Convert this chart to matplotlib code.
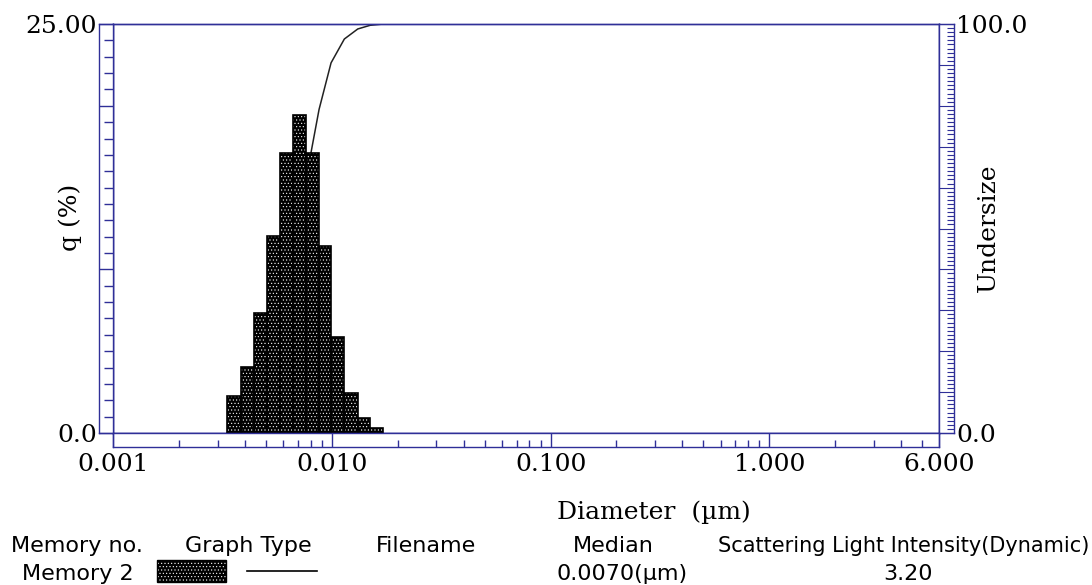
import numpy as np
import matplotlib
matplotlib.use("Agg")
import matplotlib.pyplot as plt
from matplotlib.ticker import MultipleLocator, FixedLocator, NullFormatter, NullLocator
from matplotlib.patches import Rectangle
from matplotlib.lines import Line2D

# --- data ---
bin_edges_um = [0.003323, 0.003826, 0.004416, 0.005032, 0.005788, 0.006617, 0.007612,
                0.008730, 0.009906, 0.011395, 0.013122, 0.014940, 0.017185]
q_percent = [2.26, 4.05, 7.35, 12.04, 17.10, 19.44, 17.10, 11.43, 5.85, 2.46, 0.90, 0.32]

x_ticks = [0.001, 0.01, 0.1, 1.0, 6.0]
x_tick_labels = ["0.001", "0.010", "0.100", "1.000", "6.000"]
x_minor = [2e-3, 3e-3, 4e-3, 5e-3, 6e-3, 7e-3, 8e-3, 9e-3,
           2e-2, 3e-2, 4e-2, 5e-2, 6e-2, 7e-2, 8e-2, 9e-2,
           0.2, 0.3, 0.4, 0.5, 0.6, 0.7, 0.8, 0.9,
           2.0, 3.0, 4.0, 5.0]

table_header = ["Memory no.", "Graph Type", "Filename", "Median",
                "Scattering Light Intensity(Dynamic)"]
table_row = ["Memory 2", "", "", "0.0070(\u00b5m)", "3.20"]

# --- style ---
AXC = "#2f2f98"
SERIF = ["DejaVu Serif"]
SANS = ["DejaVu Sans"]
W, H = 1092, 585

plt.rcParams["hatch.linewidth"] = 0.4


def rect(x0, y0, x1, y1):
    # pixel box (top-left origin) -> figure fraction
    return [x0 / W, 1 - y1 / H, (x1 - x0) / W, (y1 - y0) / H]


def fx(x):
    return x / W


def fy(y):
    return 1 - y / H


def style_spines(a):
    for s in a.spines.values():
        s.set_color(AXC)
        s.set_linewidth(1.0)


fig = plt.figure(figsize=(W / 100, H / 100), dpi=100)

# cumulative (undersize) axes, drawn first so the bars cover the curve
axc = fig.add_axes(rect(113.3, 24, 939.4, 433))
axc.set_xscale("log")
axc.set_xlim(0.001, 6.0)
axc.set_ylim(0, 100)
cum = np.concatenate([[0.0], np.cumsum(q_percent)])
cum = cum / cum[-1] * 100
cum_x = list(bin_edges_um) + [6.0]
cum_y = list(cum) + [100.0]
axc.plot(cum_x, cum_y, color="#222222", lw=1.1, zorder=1)
axc.xaxis.set_major_locator(NullLocator())
axc.xaxis.set_minor_locator(NullLocator())
axc.yaxis.set_major_locator(NullLocator())
style_spines(axc)

# histogram axes on top
ax = axc.twinx()
ax.set_ylim(0, 25)
left = np.array(bin_edges_um[:-1])
widths = np.diff(bin_edges_um)
ax.bar(left, q_percent, width=widths, align="edge", color="black",
       edgecolor="white", linewidth=0, hatch=".....", zorder=2)
ax.bar(left, q_percent, width=widths, align="edge", fill=False,
       edgecolor="black", linewidth=1.2, zorder=3)
ax.yaxis.set_major_locator(NullLocator())
style_spines(ax)

# left ruler (q %)
axl = fig.add_axes(rect(99, 24, 113.3, 433))
axl.set_ylim(0, 25)
axl.set_xticks([])
axl.yaxis.set_major_locator(FixedLocator([0, 10, 20, 25]))
axl.yaxis.set_minor_locator(MultipleLocator(1))
axl.set_yticklabels(["0.0", "", "", "25.00"])
axl.tick_params(axis="y", which="both", left=False, right=True, labelleft=True,
                labelright=False, direction="in", color=AXC, width=1.0,
                labelsize=18, pad=1.5)
axl.tick_params(axis="y", which="major", length=10.3)
axl.tick_params(axis="y", which="minor", length=6.5)
for t in axl.get_yticklabels():
    t.set_fontfamily(SERIF)
style_spines(axl)

# right ruler (undersize)
axr = fig.add_axes(rect(939.4, 24, 954, 433))
axr.set_ylim(0, 100)
axr.set_xticks([])
axr.yaxis.set_major_locator(MultipleLocator(10))
axr.yaxis.set_minor_locator(MultipleLocator(1))
axr.set_yticklabels(["0.0" if v == 0 else ("100.0" if v == 100 else "")
                     for v in axr.get_yticks()])
axr.tick_params(axis="y", which="both", left=False, right=True, labelleft=False,
                labelright=True, direction="in", color=AXC, width=0.8,
                labelsize=18, pad=1.5)
axr.tick_params(axis="y", which="major", length=10.5)
axr.tick_params(axis="y", which="minor", length=5.0)
for t in axr.get_yticklabels():
    t.set_fontfamily(SERIF)
style_spines(axr)

# bottom ruler (diameter)
axb = fig.add_axes(rect(113.3, 433, 939.4, 447))
axb.set_xscale("log")
axb.set_xlim(0.001, 6.0)
axb.set_yticks([])
axb.xaxis.set_major_locator(FixedLocator(x_ticks))
axb.xaxis.set_minor_locator(FixedLocator(x_minor))
axb.xaxis.set_minor_formatter(NullFormatter())
axb.set_xticklabels(x_tick_labels)
axb.tick_params(axis="x", which="both", direction="in", color=AXC, width=1.0,
                labelsize=18, pad=4)
axb.tick_params(axis="x", which="major", length=10.0)
axb.tick_params(axis="x", which="minor", length=4.7)
for t in axb.get_xticklabels():
    t.set_fontfamily(SERIF)
style_spines(axb)

# axis titles
fig.text(fx(70), fy(217), "q (%)", rotation=90, ha="center", va="center",
         fontsize=18, family=SERIF)
fig.text(fx(988), fy(228), "Undersize", rotation=90, ha="center", va="center",
         fontsize=18, family=SERIF)
fig.text(fx(654), fy(512), "Diameter  (\u00b5m)", ha="center", va="center",
         fontsize=18, family=SERIF)

# bottom information table
col_x = [77, 248, 426, 613]
for i in range(4):
    fig.text(fx(col_x[i]), fy(552), table_header[i], ha="center", va="baseline",
             fontsize=16, family=SANS)
fig.text(fx(1089), fy(552), table_header[4], ha="right", va="baseline",
         fontsize=15, family=SANS)
fig.text(fx(78), fy(580), table_row[0], ha="center", va="baseline",
         fontsize=16, family=SANS)
fig.text(fx(622), fy(580), table_row[3], ha="center", va="baseline",
         fontsize=16, family=SANS)
fig.text(fx(908), fy(580), table_row[4], ha="center", va="baseline",
         fontsize=16, family=SANS)

# legend swatches in the table
fig.add_artist(Rectangle((fx(157), fy(582)), fx(226) - fx(157), fy(560) - fy(582),
                         transform=fig.transFigure, facecolor="black",
                         edgecolor="white", linewidth=0, hatch="....."))
fig.add_artist(Rectangle((fx(157), fy(582)), fx(226) - fx(157), fy(560) - fy(582),
                         transform=fig.transFigure, fill=False,
                         edgecolor="black", linewidth=1.0))
fig.add_artist(Line2D([fx(247), fx(317)], [fy(571), fy(571)],
                      transform=fig.transFigure, color="black", lw=1.2))

fig.savefig("out.png", dpi=100)
